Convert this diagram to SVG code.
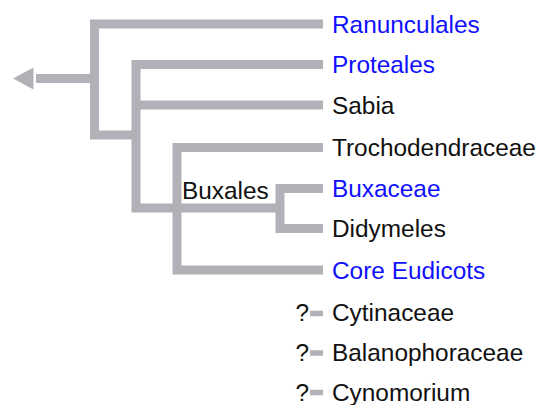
<svg xmlns="http://www.w3.org/2000/svg" width="544" height="405" viewBox="0 0 544 405">
<style>
  .br{fill:none;stroke:#b2b1b7;stroke-width:9;stroke-linejoin:miter;stroke-linecap:butt}
  .dash{fill:none;stroke:#b2b1b7;stroke-width:5.5}
  text{font-family:"Liberation Sans",Arial,sans-serif;font-size:24.4px}
  .lk{fill:#1010ff}
  .bk{fill:#111}
</style>
<rect width="544" height="405" fill="#fff"/>
<g id="connectors">
  <polygon points="13,78.5 33.5,67.5 33.5,89.5" fill="#b2b1b7"/>
  <path class="br" d="M90,78.5 H36"/>
  <path class="br" d="M323,24 H94.5 V135 H136"/>
  <path class="br" d="M323,64.5 H136 V208 H280"/>
  <path class="br" d="M136,105 H323"/>
  <path class="br" d="M323,147.5 H177 V270 H323"/>
  <path class="br" d="M323,188.5 H280 V228.5 H323"/>
  <path class="dash" d="M310,313.5 H323"/>
  <path class="dash" d="M310,353 H323"/>
  <path class="dash" d="M310,392.5 H323"/>
</g>
<g id="n-ranunculales"><text class="lk" x="332" y="32.5">Ranunculales</text></g>
<g id="n-proteales"><text class="lk" x="332" y="73">Proteales</text></g>
<g id="n-sabia"><text class="bk" x="332" y="113.5">Sabia</text></g>
<g id="n-trochodendraceae"><text class="bk" x="332" y="156">Trochodendraceae</text></g>
<g id="n-buxales"><text class="bk" x="182" y="199">Buxales</text></g>
<g id="n-buxaceae"><text class="lk" x="332" y="197">Buxaceae</text></g>
<g id="n-didymeles"><text class="bk" x="332" y="237">Didymeles</text></g>
<g id="n-core-eudicots"><text class="lk" x="332" y="278.5">Core Eudicots</text></g>
<g id="n-cytinaceae"><text class="bk" x="295.5" y="321">?</text><text class="bk" x="332" y="321">Cytinaceae</text></g>
<g id="n-balanophoraceae"><text class="bk" x="295.5" y="361">?</text><text class="bk" x="332" y="361">Balanophoraceae</text></g>
<g id="n-cynomorium"><text class="bk" x="295.5" y="401">?</text><text class="bk" x="332" y="401">Cynomorium</text></g>
</svg>
